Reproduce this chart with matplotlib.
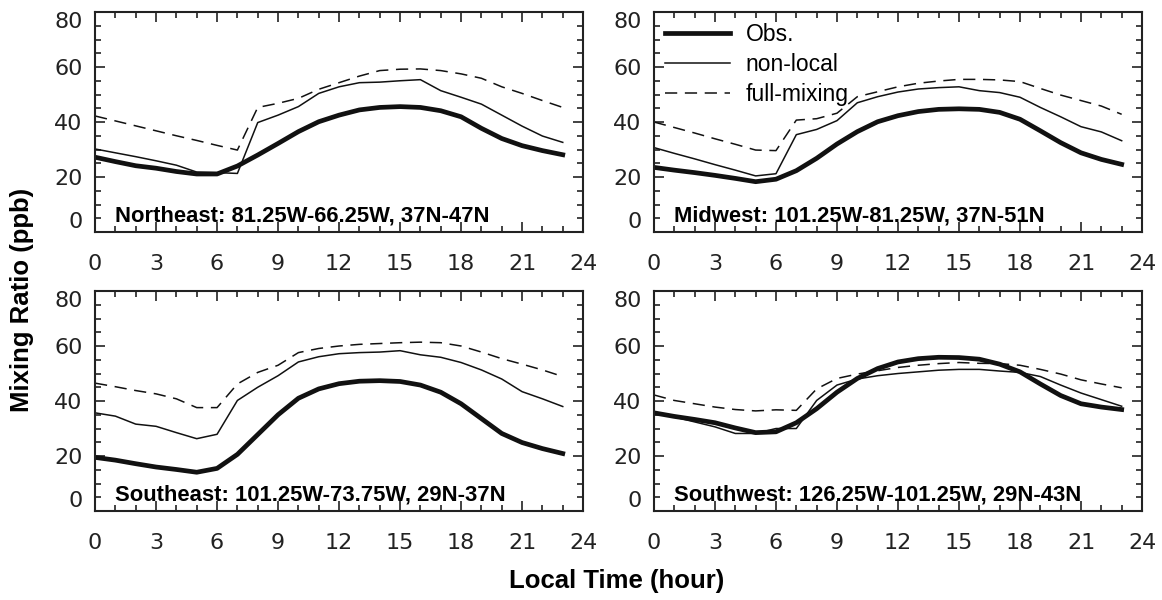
import numpy as np
import matplotlib.pyplot as plt
from matplotlib.ticker import MultipleLocator

hours = np.arange(24)

# Northeast
ne_obs = [27.2, 25.6, 24.1, 23.2, 22.0, 21.1, 21.1, 24.0, 28.0, 32.2, 36.5, 40.1,
          42.5, 44.4, 45.3, 45.6, 45.3, 44.1, 41.9, 37.7, 34.0, 31.4, 29.6, 28.1]
ne_nonlocal = [30.2, 28.8, 27.4, 25.9, 24.3, 21.8, 21.6, 21.3, 39.8, 42.5, 45.6, 50.4,
               52.8, 54.3, 54.5, 55.0, 55.4, 51.4, 49.0, 46.5, 42.5, 38.5, 34.9, 32.6]
ne_full = [42.2, 40.4, 38.6, 36.8, 35.0, 33.3, 31.5, 29.8, 45.3, 46.8, 48.6, 51.9,
           54.3, 56.7, 58.7, 59.2, 59.3, 58.7, 57.5, 55.9, 52.8, 50.4, 47.8, 45.3]

# Midwest
mw_obs = [23.5, 22.5, 21.6, 20.6, 19.5, 18.3, 19.2, 22.3, 26.8, 32.0, 36.5, 40.1,
          42.3, 43.8, 44.6, 44.8, 44.6, 43.5, 41.0, 36.8, 32.5, 28.8, 26.4, 24.6]
mw_nonlocal = [30.7, 28.6, 26.6, 24.5, 22.5, 20.4, 21.2, 35.4, 37.3, 40.5, 47.0, 49.2,
               50.9, 52.0, 52.5, 52.8, 51.4, 50.7, 49.0, 45.3, 41.9, 38.3, 36.4, 33.2]
mw_full = [40.0, 38.0, 36.0, 33.9, 31.9, 29.8, 29.6, 40.7, 41.2, 43.2, 49.2, 51.0,
           52.8, 54.1, 54.9, 55.5, 55.5, 55.3, 54.7, 52.2, 49.8, 47.8, 45.8, 42.8]

# Southeast
se_obs = [19.5, 18.5, 17.2, 16.0, 15.1, 14.1, 15.5, 20.6, 27.8, 35.0, 41.0, 44.4,
          46.3, 47.2, 47.4, 47.1, 45.8, 43.2, 39.0, 33.6, 28.2, 24.9, 22.7, 20.9]
se_nonlocal = [35.7, 34.5, 31.6, 30.8, 28.5, 26.3, 27.9, 40.2, 45.0, 49.2, 54.2, 56.1,
               57.2, 57.6, 57.8, 58.3, 56.8, 55.9, 54.0, 51.3, 48.0, 43.4, 40.8, 38.0]
se_full = [46.5, 45.2, 43.8, 42.6, 40.8, 37.6, 37.6, 46.2, 50.4, 53.0, 57.6, 59.1,
           60.0, 60.6, 60.9, 61.2, 61.4, 61.2, 60.0, 57.8, 55.4, 53.4, 51.3, 48.9]

# Southwest
sw_obs = [35.7, 34.4, 33.3, 32.1, 30.2, 28.5, 28.8, 32.1, 37.2, 43.2, 48.2, 51.8,
          54.2, 55.4, 55.9, 55.8, 55.2, 53.4, 50.6, 46.2, 42.0, 39.0, 37.8, 36.9]
sw_nonlocal = [36.0, 34.2, 32.4, 30.6, 28.2, 28.2, 30.0, 30.0, 40.2, 45.8, 48.0, 49.2,
               50.0, 50.6, 51.2, 51.5, 51.5, 50.9, 50.4, 48.9, 45.8, 42.9, 40.5, 38.1]
sw_full = [42.2, 40.2, 39.0, 37.8, 36.9, 36.4, 36.8, 36.6, 44.4, 48.2, 49.8, 51.0,
           52.2, 53.0, 53.6, 54.0, 53.7, 53.6, 53.0, 51.5, 49.8, 47.7, 46.2, 44.8]

regions = ["Northeast: 81.25W-66.25W, 37N-47N",
           "Midwest: 101.25W-81.25W, 37N-51N",
           "Southeast: 101.25W-73.75W, 29N-37N",
           "Southwest: 126.25W-101.25W, 29N-43N"]
obs_all = [ne_obs, mw_obs, se_obs, sw_obs]
nonlocal_all = [ne_nonlocal, mw_nonlocal, se_nonlocal, sw_nonlocal]
full_all = [ne_full, mw_full, se_full, sw_full]
yticks = [0, 20, 40, 60, 80]
xticks = [0, 3, 6, 9, 12, 15, 18, 21, 24]

fig = plt.figure(figsize=(11.62, 6.0), dpi=100)
positions = [[0.0818, 0.6133, 0.42, 0.3667],
             [0.5628, 0.6133, 0.42, 0.3667],
             [0.0818, 0.1483, 0.42, 0.3667],
             [0.5628, 0.1483, 0.42, 0.3667]]

for i in range(4):
    ax = fig.add_axes(positions[i])
    ax.plot(hours, obs_all[i], color="#111111", lw=3.4, label="Obs.")
    ax.plot(hours, nonlocal_all[i], color="#111111", lw=1.1, label="non-local")
    ax.plot(hours, full_all[i], color="#111111", lw=1.1, dashes=(8, 5), label="full-mixing")
    ax.set_xlim(0, 24)
    ax.set_ylim(0, 80)
    ax.set_xticks(xticks)
    ax.set_yticks(yticks)
    ax.xaxis.set_minor_locator(MultipleLocator(1))
    ax.yaxis.set_minor_locator(MultipleLocator(5))
    ax.tick_params(which="both", direction="in", top=True, right=True, width=1.2, color="#222222")
    ax.tick_params(which="major", length=7)
    ax.tick_params(which="minor", length=4)
    ax.tick_params(axis="x", which="major", pad=16, labelsize=16)
    ax.tick_params(axis="y", which="major", pad=9, labelsize=16)
    for lbl in ax.get_xticklabels() + ax.get_yticklabels():
        lbl.set_color("#222222")
    # end labels kept inside the frame, as in the original
    ylabs = ax.get_yticklabels()
    ylabs[0].set_va("bottom")
    ylabs[-1].set_va("top")
    for s in ax.spines.values():
        s.set_linewidth(1.5)
        s.set_color("#222222")
    ax.text(1.0, 4.0, regions[i], fontsize=15.8, fontweight="bold",
            family="Liberation Sans", va="baseline", ha="left")
    if i == 1:
        ax.legend(loc="upper left", frameon=False, handlelength=2.8,
                  borderaxespad=0.1, labelspacing=0.3, handletextpad=0.7,
                  prop={"family": "Liberation Sans", "size": 16.5})

fig.text(0.019, 0.5, "Mixing Ratio (ppb)", rotation=90, va="center", ha="center",
         fontsize=18.5, fontweight="bold", family="Liberation Sans")
fig.text(0.531, 0.032, "Local Time (hour)", va="center", ha="center",
         fontsize=18.5, fontweight="bold", family="Liberation Sans")

fig.savefig("out.png", dpi=100)
